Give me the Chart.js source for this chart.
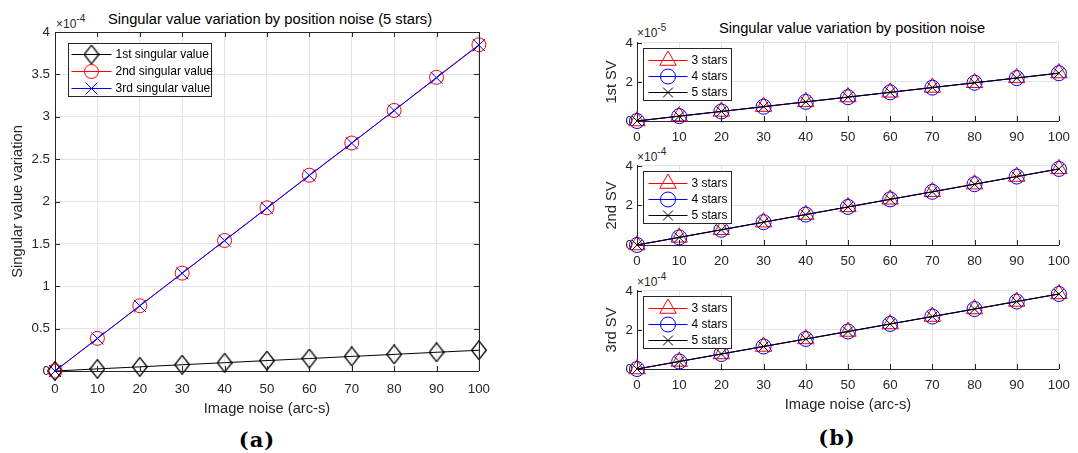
<!DOCTYPE html>
<html>
<head>
<meta charset="utf-8">
<script src="https://cdn.jsdelivr.net/npm/chart.js@4.4.1/dist/chart.umd.min.js"></script>
<style>
  body { margin: 0; width: 1078px; height: 453px; background: #fff; position: relative; overflow: hidden;
         font-family: "Liberation Sans", Arial, Helvetica, sans-serif; color: #262626; }
  canvas { position: absolute; }
  .txt { position: absolute; white-space: nowrap; line-height: 1; }
  .title { font-size: 14.7px; transform: translateX(-50%); color: #000; }
  .expo { font-size: 12px; }
  .expo span { font-size: 10px; position: relative; top: -6px; }
  .cap { font-family: "DejaVu Serif", "Liberation Serif", serif; font-weight: bold; font-size: 21px;
         color: #000; transform: translateX(-50%); letter-spacing: 1px; }
</style>
</head>
<body>
<div class="txt title" style="left:270px; top:12px;">Singular value variation by position noise (5 stars)</div>
<div class="txt expo" style="left:56px; top:18px;">×10<span>-4</span></div>
<canvas id="chartA" width="500" height="425" style="left:0; top:0;"></canvas>

<div class="txt title" style="left:852px; top:21px;">Singular value variation by position noise</div>
<div class="txt expo" style="left:637px; top:26.5px;">×10<span>-5</span></div>
<div class="txt expo" style="left:637px; top:150.5px;">×10<span>-4</span></div>
<div class="txt expo" style="left:637px; top:276px;">×10<span>-4</span></div>
<canvas id="chartB1" width="498" height="118" style="left:580px; top:31px;"></canvas>
<canvas id="chartB2" width="498" height="119" style="left:580px; top:154px;"></canvas>
<canvas id="chartB3" width="498" height="142" style="left:580px; top:279px;"></canvas>

<div class="txt cap" style="left:257px; top:429px;">(a)</div>
<div class="txt cap" style="left:837px; top:427px;">(b)</div>

<script>
const FONT = '"Liberation Sans", Arial, Helvetica, sans-serif';
const INK = '#262626';
const GRID = '#e3e3e3';

const noise = [0, 10, 20, 30, 40, 50, 60, 70, 80, 90, 100];

// (a) five stars, in units of 1e-4
const sv1Five = [0, 0.025, 0.049, 0.074, 0.098, 0.123, 0.147, 0.172, 0.196, 0.221, 0.245];
const sv2Five = [0, 0.385, 0.770, 1.155, 1.540, 1.925, 2.310, 2.690, 3.075, 3.465, 3.850];
const sv3Five = [0, 0.384, 0.769, 1.153, 1.538, 1.922, 2.307, 2.688, 3.073, 3.460, 3.845];
const legendA = ['1st singular value', '2nd singular value', '3rd singular value'];
const yTicksA = [0, 0.5, 1, 1.5, 2, 2.5, 3, 3.5, 4];

// (b) first singular value in units of 1e-5, second and third in units of 1e-4
const sv1Stars3 = [0, 0.25, 0.49, 0.74, 0.98, 1.23, 1.47, 1.72, 1.96, 2.21, 2.46];
const sv1Stars4 = [0, 0.25, 0.49, 0.73, 0.98, 1.22, 1.47, 1.71, 1.96, 2.20, 2.45];
const sv1Stars5 = [0, 0.245, 0.49, 0.735, 0.98, 1.225, 1.47, 1.715, 1.96, 2.205, 2.45];
const sv2Stars3 = [0, 0.386, 0.771, 1.157, 1.542, 1.928, 2.313, 2.695, 3.080, 3.466, 3.852];
const sv2Stars4 = [0, 0.385, 0.770, 1.156, 1.541, 1.926, 2.311, 2.693, 3.078, 3.464, 3.850];
const sv2Stars5 = [0, 0.385, 0.770, 1.155, 1.540, 1.925, 2.310, 2.690, 3.075, 3.465, 3.850];
const sv3Stars3 = [0, 0.385, 0.770, 1.154, 1.539, 1.924, 2.309, 2.690, 3.075, 3.462, 3.848];
const sv3Stars4 = [0, 0.384, 0.769, 1.153, 1.538, 1.923, 2.308, 2.689, 3.074, 3.461, 3.846];
const sv3Stars5 = [0, 0.384, 0.769, 1.153, 1.538, 1.922, 2.307, 2.688, 3.073, 3.460, 3.845];
const legendB = ['3 stars', '4 stars', '5 stars'];
const yTicksB = [0, 2, 4];

const xTicks = noise;

// MATLAB-style diamond is taller than wide, so build it as a small image
function diamondMarker(w, h, color) {
  const c = document.createElement('canvas');
  c.width = w; c.height = h;
  const g = c.getContext('2d');
  g.strokeStyle = color;
  g.lineWidth = 1.3;
  g.beginPath();
  g.moveTo(w / 2, 0.7);
  g.lineTo(w - 0.7, h / 2);
  g.lineTo(w / 2, h - 0.7);
  g.lineTo(0.7, h / 2);
  g.closePath();
  g.stroke();
  return c;
}

// legend box drawn inside the plot area, line sample with marker in the middle
const boxLegend = {
  id: 'boxLegend',
  afterDatasetsDraw(chart, args, o) {
    const { ctx, chartArea } = chart;
    const x0 = Math.round(chartArea.left + o.dx) + 0.5;
    const y0 = Math.round(chartArea.top + o.dy) + 0.5;
    ctx.save();
    ctx.fillStyle = '#fff';
    ctx.fillRect(x0, y0, o.w, o.h);
    ctx.strokeStyle = INK;
    ctx.lineWidth = 1;
    ctx.strokeRect(x0, y0, o.w, o.h);
    chart.data.datasets.forEach((ds, i) => {
      const y = Math.round(y0 + o.row0 + i * o.rowGap) + 0.5;
      ctx.strokeStyle = ds.borderColor;
      ctx.lineWidth = 1;
      ctx.beginPath();
      ctx.moveTo(x0 + o.line0, y);
      ctx.lineTo(x0 + o.line1, y);
      ctx.stroke();
      ctx.fillStyle = 'rgba(0,0,0,0)';
      Chart.helpers.drawPoint(ctx, { pointStyle: ds.pointStyle, radius: ds.pointRadius, borderWidth: 1, rotation: 0 },
        x0 + (o.line0 + o.line1) / 2, y);
      ctx.fillStyle = '#000';
      ctx.font = '12px ' + FONT;
      ctx.textBaseline = 'middle';
      ctx.textAlign = 'left';
      ctx.fillText(ds.label, x0 + o.text, y);
    });
    ctx.restore();
  }
};

// inward tick marks, plus the top/right frame when the axes box is on
const innerTicks = {
  id: 'innerTicks',
  afterDraw(chart, args, o) {
    const { ctx, chartArea: a, scales: { x, y } } = chart;
    const len = 5;
    ctx.save();
    ctx.strokeStyle = INK;
    ctx.lineWidth = 1;
    ctx.beginPath();
    x.ticks.forEach(t => {
      const px = Math.round(x.getPixelForValue(t.value)) + 0.5;
      ctx.moveTo(px, a.bottom);
      ctx.lineTo(px, a.bottom - len);
      if (o.box) { ctx.moveTo(px, a.top); ctx.lineTo(px, a.top + len); }
    });
    y.ticks.forEach(t => {
      const py = Math.round(y.getPixelForValue(t.value)) + 0.5;
      ctx.moveTo(a.left, py);
      ctx.lineTo(a.left + len, py);
      if (o.box) { ctx.moveTo(a.right, py); ctx.lineTo(a.right - len, py); }
    });
    if (o.box) {
      const t = Math.round(a.top) + 0.5, r = Math.round(a.right) + 0.5;
      ctx.moveTo(a.left, t); ctx.lineTo(r, t); ctx.lineTo(r, a.bottom);
    }
    ctx.stroke();
    ctx.restore();
  }
};

function makeChart(id, cfg) {
  const n = cfg.series.length;
  return new Chart(document.getElementById(id), {
    type: 'line',
    data: {
      datasets: cfg.series.map((s, i) => ({
        label: s.label,
        data: noise.map((v, k) => ({ x: v, y: s.values[k] })),
        borderColor: s.color,
        borderWidth: 1,
        pointStyle: s.marker,
        pointRadius: s.size,
        pointHoverRadius: s.size,
        pointBorderColor: s.color,
        pointBackgroundColor: 'rgba(0,0,0,0)',
        pointBorderWidth: 1,
        tension: 0,
        fill: false,
        clip: false,
        order: n - i
      }))
    },
    options: {
      responsive: false,
      animation: false,
      devicePixelRatio: 1,
      events: [],
      layout: { padding: { top: cfg.padTop, right: cfg.padRight, left: 0, bottom: 0 } },
      plugins: {
        legend: { display: false },
        tooltip: { enabled: false },
        boxLegend: cfg.legend,
        innerTicks: { box: cfg.box }
      },
      scales: {
        x: {
          type: 'linear', min: 0, max: 100,
          afterBuildTicks: s => { s.ticks = xTicks.map(v => ({ value: v })); },
          afterFit: s => { s.height = cfg.xHeight; },
          ticks: { color: INK, font: { family: FONT, size: 13.3 }, padding: cfg.xPad, maxRotation: 0, autoSkip: false,
                   callback: v => String(v) },
          grid: { color: GRID, drawTicks: false },
          border: { color: INK, width: 1 },
          title: { display: !!cfg.xTitle, text: cfg.xTitle || '', color: INK,
                   font: { family: FONT, size: 14.7 }, padding: { top: 0, bottom: 7 } }
        },
        y: {
          type: 'linear', min: 0, max: cfg.yMax,
          afterBuildTicks: s => { s.ticks = cfg.yTicks.map(v => ({ value: v })); },
          afterFit: s => { s.width = cfg.yWidth; },
          ticks: { color: INK, font: { family: FONT, size: 13.3 }, padding: cfg.yPad, callback: v => String(v) },
          grid: { color: GRID, drawTicks: false },
          border: { color: INK, width: 1 },
          title: { display: true, text: cfg.yTitle, color: INK,
                   font: { family: FONT, size: 14.7 }, padding: { top: cfg.yTitlePad, bottom: 0 } }
        }
      }
    },
    plugins: [boxLegend, innerTicks]
  });
}

const diamond = diamondMarker(16, 20, '#000');

makeChart('chartA', {
  series: [
    { label: legendA[0], values: sv1Five, color: '#000000', marker: diamond, size: 9 },
    { label: legendA[1], values: sv2Five, color: '#ff0000', marker: 'circle', size: 7 },
    { label: legendA[2], values: sv3Five, color: '#0000ff', marker: 'crossRot', size: 8.5 }
  ],
  padTop: 32, padRight: 15, yWidth: 55, xHeight: 54, xPad: 10, yPad: 5,
  yMax: 4, yTicks: yTicksA, yTitle: 'Singular value variation', yTitlePad: 9,
  xTitle: 'Image noise (arc-s)', box: true,
  legend: { dx: 13, dy: 11, w: 143, h: 53, row0: 10, rowGap: 17, line0: 3, line1: 43, text: 47 }
});

const legendBoxB = { dx: 6, dy: 5, w: 88, h: 52, row0: 11, rowGap: 16.3, line0: 5, line1: 44, text: 48 };

function starSeries(a, b, c) {
  return [
    { label: legendB[0], values: a, color: '#ff0000', marker: 'triangle', size: 9.5 },
    { label: legendB[1], values: b, color: '#0000ff', marker: 'circle', size: 7.5 },
    { label: legendB[2], values: c, color: '#000000', marker: 'crossRot', size: 7 }
  ];
}

makeChart('chartB1', {
  series: starSeries(sv1Stars3, sv1Stars4, sv1Stars5),
  padTop: 10, padRight: 11, yWidth: 57, xHeight: 28, xPad: 8, yPad: 4,
  yMax: 4, yTicks: yTicksB, yTitle: '1st SV', yTitlePad: 23, box: false, legend: legendBoxB
});
makeChart('chartB2', {
  series: starSeries(sv2Stars3, sv2Stars4, sv2Stars5),
  padTop: 10, padRight: 11, yWidth: 57, xHeight: 28, xPad: 8, yPad: 4,
  yMax: 4, yTicks: yTicksB, yTitle: '2nd SV', yTitlePad: 23, box: false, legend: legendBoxB
});
makeChart('chartB3', {
  series: starSeries(sv3Stars3, sv3Stars4, sv3Stars5),
  padTop: 10, padRight: 11, yWidth: 57, xHeight: 52, xPad: 8, yPad: 4,
  yMax: 4, yTicks: yTicksB, yTitle: '3rd SV', yTitlePad: 23,
  xTitle: 'Image noise (arc-s)', box: false, legend: legendBoxB
});
</script>
</body>
</html>
